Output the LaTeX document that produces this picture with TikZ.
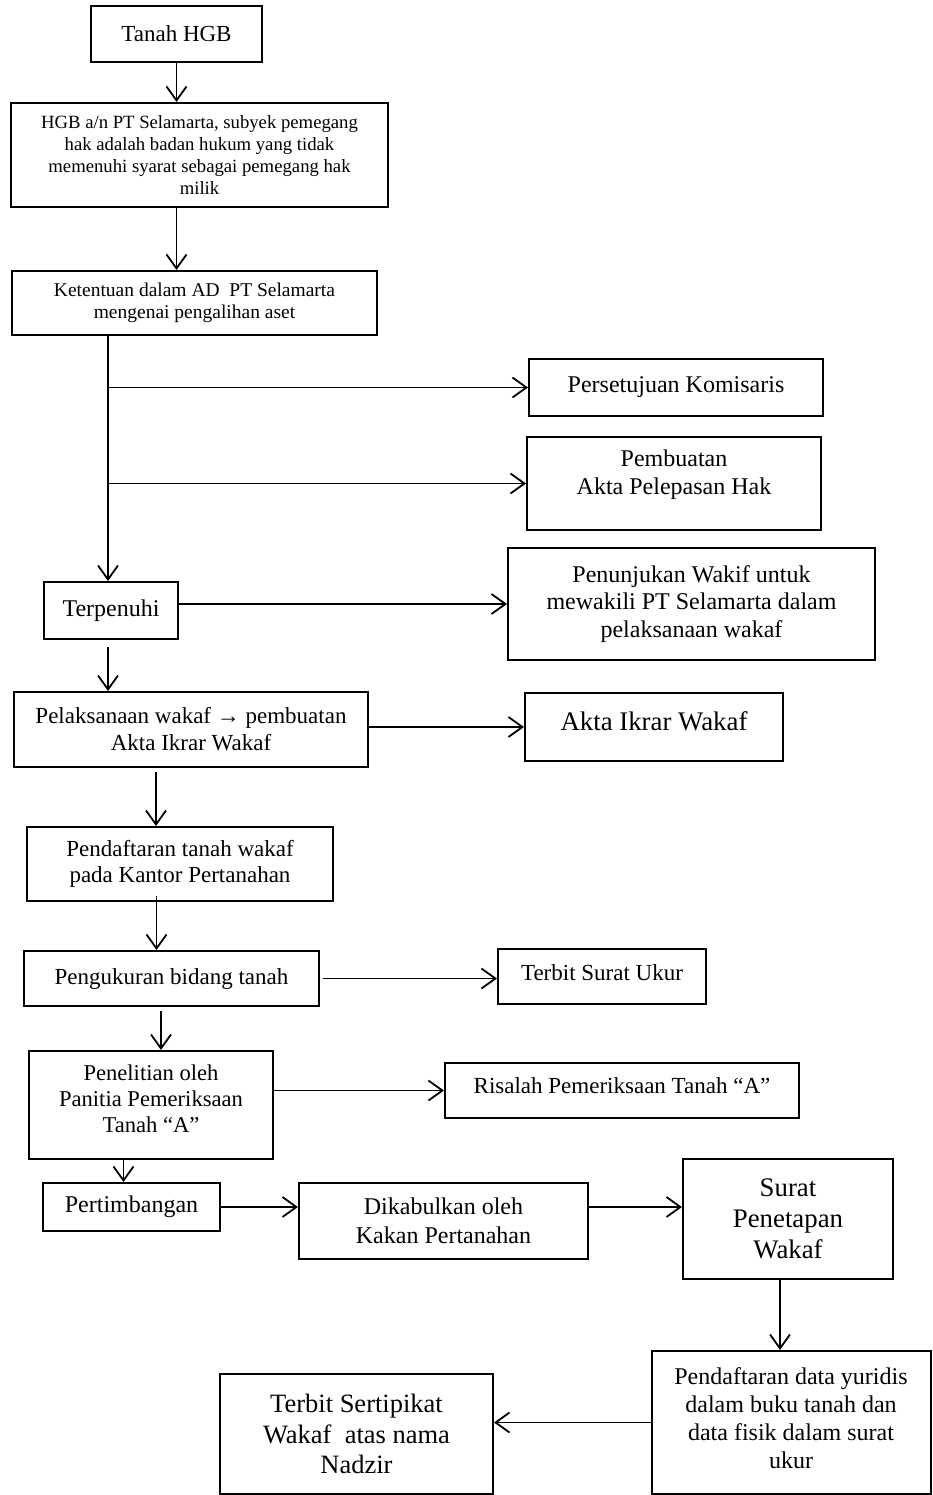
\documentclass[tikz,border=0pt]{standalone}
\usepackage{fontspec}
\setmainfont{Liberation Serif}
\usetikzlibrary{arrows.meta}
\tikzset{>={Straight Barb[length=14pt,width=20pt]}}
\tikzset{
  kotak/.style={draw, line width=2pt, align=center, inner sep=0pt},
  panah/.style={->, line width=1.8pt},
  lift/.style={text depth=#1},
  kecil/.style={font=\fontsize{18.7}{21.7}\selectfont},
  sedang/.style={font=\fontsize{23}{26.5}\selectfont},
  besar/.style={font=\fontsize{24}{28}\selectfont},
  judul/.style={font=\fontsize{26.8}{31}\selectfont}
}

\begin{document}
\begin{tikzpicture}[x=1pt, y=-1pt]
    \useasboundingbox (0,0) rectangle (932,1495);

    \node[kotak, sedang, minimum width=171, minimum height=56] (tanah) at (176.5,34) {Tanah HGB};
    \node[kotak, kecil, minimum width=377, minimum height=104] (hgb) at (199.5,155)
        {HGB a/n PT Selamarta, subyek pemegang\\hak adalah badan hukum yang tidak\\memenuhi syarat sebagai pemegang hak\\milik};
    \node[kotak, font=\fontsize{19.5}{22}\selectfont, minimum width=365, minimum height=64] (ketentuan) at (194.5,303)
        {Ketentuan dalam AD\ \ PT Selamarta\\mengenai pengalihan aset};
    \node[kotak, besar, minimum width=294, minimum height=57] (komisaris) at (676,387.5) {Persetujuan Komisaris};
    \node[kotak, besar, lift=23pt, minimum width=294, minimum height=93] (pelepasan) at (674,483.5)
        {Pembuatan\\Akta Pelepasan Hak};
    \node[kotak, font=\fontsize{24}{27.5}\selectfont, minimum width=367, minimum height=112] (penunjukan) at (691.5,604)
        {Penunjukan Wakif untuk\\mewakili PT Selamarta dalam\\pelaksanaan wakaf};
    \node[kotak, besar, minimum width=134, minimum height=57] (terpenuhi) at (111,610.5) {Terpenuhi};
    \node[kotak, font=\fontsize{23}{27}\selectfont, minimum width=354, minimum height=75] (pelaksanaan) at (191,729.5)
        {Pelaksanaan wakaf → pembuatan\\Akta Ikrar Wakaf};
    \node[kotak, judul, lift=12pt, minimum width=258, minimum height=68] (ikrar) at (654,727) {Akta Ikrar Wakaf};
    \node[kotak, font=\fontsize{23}{25.5}\selectfont, minimum width=306, minimum height=74] (pendaftaran) at (180,864)
        {Pendaftaran tanah wakaf\\pada Kantor Pertanahan};
    \node[kotak, sedang, minimum width=295, minimum height=55] (pengukuran) at (171.5,978.5) {Pengukuran bidang tanah};
    \node[kotak, sedang, lift=8pt, minimum width=208, minimum height=55] (suratukur) at (602,976.5) {Terbit Surat Ukur};
    \node[kotak, font=\fontsize{22.6}{26}\selectfont, lift=12pt, minimum width=244, minimum height=108] (penelitian) at (151,1105)
        {Penelitian oleh\\Panitia Pemeriksaan\\Tanah “A”};
    \node[kotak, sedang, lift=10pt, minimum width=354, minimum height=55] (risalah) at (622,1090.5)
        {Risalah Pemeriksaan Tanah “A”};
    \node[kotak, besar, minimum width=177, minimum height=48] (pertimbangan) at (131.5,1207) {Pertimbangan};
    \node[kotak, font=\fontsize{24}{29}\selectfont, minimum width=289, minimum height=76] (dikabulkan) at (443.5,1221)
        {Dikabulkan oleh\\Kakan Pertanahan};
    \node[kotak, judul, minimum width=210, minimum height=120] (penetapan) at (788,1219)
        {Surat\\Penetapan\\Wakaf};
    \node[kotak, besar, lift=8pt, minimum width=279, minimum height=143] (yuridis) at (791,1422.5)
        {Pendaftaran data yuridis\\dalam buku tanah dan\\data fisik dalam surat\\ukur};
    \node[kotak, font=\fontsize{26.5}{30.5}\selectfont, minimum width=273, minimum height=120] (sertipikat) at (356.5,1434)
        {Terbit Sertipikat\\Wakaf\ \ atas nama\\Nadzir};

    \draw[panah] (tanah) -- (tanah |- hgb.north);
    \draw[panah] (hgb.south -| tanah) -- (ketentuan.north -| tanah);
    \draw[panah] ([xshift=-3pt]ketentuan.south -| terpenuhi) -- ([xshift=-3pt]terpenuhi.north);
    \foreach \n in {komisaris,pelepasan}
    \draw[panah] ([xshift=-3pt]\n.west -| terpenuhi) -- (\n.west);
    \draw[panah] (terpenuhi.east |- penunjukan.west) -- (penunjukan.west);
    \draw[panah] ([xshift=-3pt,yshift=-7pt]terpenuhi.south) -- ([xshift=-3pt]terpenuhi.south |- pelaksanaan.north);
    \draw[panah] (pelaksanaan.east |- ikrar.west) -- (ikrar.west);
    \draw[panah] ([xshift=-24pt,yshift=-4pt]pendaftaran.north |- pelaksanaan.south) -- ([xshift=-24pt]pendaftaran.north);
    \draw[panah] ([xshift=-15pt,yshift=6pt]pengukuran.north |- pendaftaran.south) -- ([xshift=-15pt]pengukuran.north);
    \draw[panah] ([xshift=3pt]pengukuran.east) -- (pengukuran.east -| suratukur.west);
    \draw[panah] ([xshift=10pt,yshift=-4pt]penelitian.north |- pengukuran.south) -- ([xshift=10pt]penelitian.north);
    \draw[panah] (penelitian.east |- risalah.west) -- (risalah.west);
    \draw[panah] ([xshift=-8pt]pertimbangan.north |- penelitian.south) -- ([xshift=-8pt]pertimbangan.north);
    \draw[panah] (pertimbangan.east) -- (pertimbangan.east -| dikabulkan.west);
    \draw[panah] (pertimbangan.east -| dikabulkan.east) -- (pertimbangan.east -| penetapan.west);
    \draw[panah] ([xshift=-8pt]penetapan.south) -- ([xshift=-8pt]penetapan.south |- yuridis.north);
    \draw[panah] (yuridis.west) -- (yuridis.west -| sertipikat.east);
\end{tikzpicture}
\end{document}
